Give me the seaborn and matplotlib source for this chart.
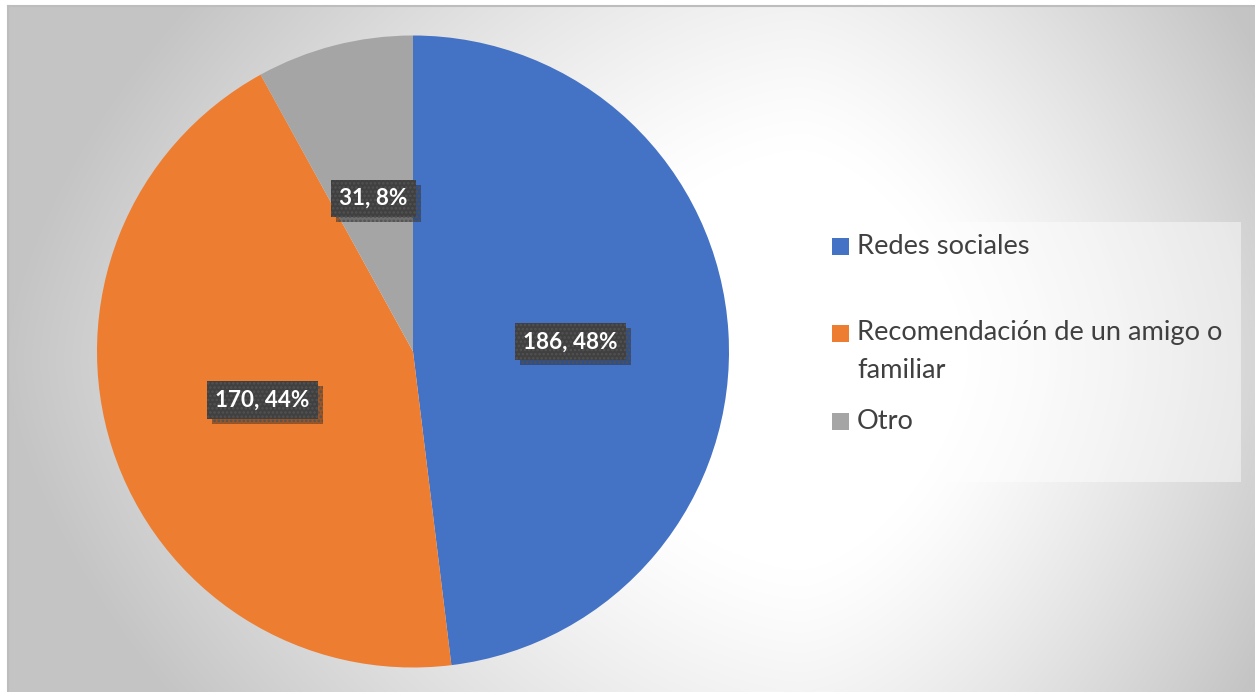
import numpy as np
import matplotlib
matplotlib.use("Agg")
import matplotlib.pyplot as plt
import matplotlib.patheffects as pe
from matplotlib.patches import Rectangle
import seaborn as sns

# Chart data
categories = ["Redes sociales", "Recomendación de un amigo o familiar", "Otro"]
legend_lines = ["Redes sociales", "Recomendación de un amigo o\nfamiliar", "Otro"]
values = [186, 170, 31]
percent_labels = ["48%", "44%", "8%"]

sns.set_theme(style="white")
plt.rcParams["font.family"] = ["Lato", "DejaVu Sans"]
palette = sns.color_palette(["#4472C4", "#ED7D31", "#A5A5A5"])

W, H, DPI = 1255, 692, 100
fig = plt.figure(figsize=(W / DPI, H / DPI), dpi=DPI)
fig.patch.set_facecolor("white")

# Chart area with a soft radial shading
x0, y_top = 8, 6
bg = fig.add_axes([x0 / W, 0, (W - x0) / W, (H - y_top) / H])
xs = np.arange(x0, W) + 0.5
ys = np.arange(y_top, H) + 0.5
X, Y = np.meshgrid(xs, ys)
gcx, gcy = 800, 360
dx = np.where(X < gcx, (gcx - X) / 800, (X - gcx) / 560)
dy = np.abs(Y - gcy) / 700
p = 1.6
r = (dx ** p + dy ** p) ** (1 / p)
t = np.clip((r - 0.3) / 0.7, 0, 1) ** 1.2
shade = (255 - 59 * t) / 255
bg.imshow(np.dstack([shade, shade, shade]), aspect="auto",
          extent=(0, 1, 0, 1), origin="upper", interpolation="bilinear")
bg.set_xlim(0, 1)
bg.set_ylim(0, 1)
bg.set_xticks([])
bg.set_yticks([])
for side in ["right", "bottom"]:
    bg.spines[side].set_visible(False)
for side in ["top", "left"]:
    bg.spines[side].set_color("#bdbdbd")
    bg.spines[side].set_linewidth(1.5)

# Pie
cx, cy, rad = 413, 351.5, 316
ax = fig.add_axes([(cx - rad) / W, (H - cy - rad) / H, 2 * rad / W, 2 * rad / H])
ax.set_facecolor("none")
wedges, _ = ax.pie(values, colors=palette, startangle=90, counterclock=False,
                   radius=1.0, wedgeprops=dict(linewidth=0))
ax.set_xlim(-1, 1)
ax.set_ylim(-1, 1)
ax.set_aspect("equal")
ax.axis("off")

# Data labels: dark dotted boxes with a drop shadow
plt.rcParams["hatch.linewidth"] = 1.2
for w, v, pct in zip(wedges, values, percent_labels):
    mid = np.deg2rad((w.theta1 + w.theta2) / 2)
    tx, ty = 0.5 * np.cos(mid), 0.5 * np.sin(mid)
    txt = ax.text(tx, ty, f"{v}, {pct}", ha="center", va="center",
                  color="white", fontsize=16.2, fontweight="bold",
                  bbox=dict(boxstyle="square,pad=0.36", facecolor="#404040",
                            edgecolor="#525252", linewidth=0, hatch="...."))
    txt.get_bbox_patch().set_path_effects([
        pe.SimplePatchShadow(offset=(3.5, -3.5), shadow_rgbFace="#1a1a1a", alpha=0.4),
        pe.Normal(),
    ])

# Legend panel
leg_l, leg_t, leg_r, leg_b = 818, 222, 1241, 482
fig.patches.append(Rectangle((leg_l / W, 1 - leg_b / H), (leg_r - leg_l) / W,
                             (leg_b - leg_t) / H, transform=fig.transFigure,
                             facecolor="white", alpha=0.45, edgecolor="none"))
item_y = [247, 333, 421]
text_y = [247, 351.5, 421]
for color, label, iy, ty in zip(palette, legend_lines, item_y, text_y):
    fig.patches.append(Rectangle((832 / W, 1 - (iy + 8.5) / H), 17 / W, 17 / H,
                                 transform=fig.transFigure, facecolor=color,
                                 edgecolor="none"))
    fig.text(857 / W, 1 - ty / H, label, ha="left", va="center",
             fontsize=19.6, color="#404040", linespacing=1.62)

fig.savefig("out.png", dpi=DPI)
